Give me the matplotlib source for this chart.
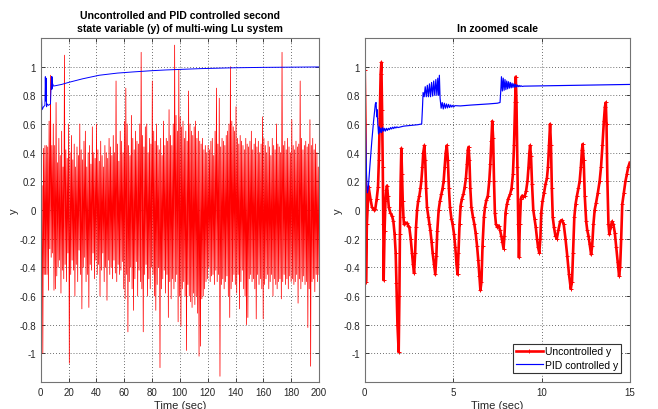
import numpy as np
import matplotlib
matplotlib.use('Agg')
from matplotlib import pyplot as plt

plt.rcParams['font.family'] = ['Liberation Sans', 'DejaVu Sans']

# uncontrolled y over 0-200 s: successive peak / trough values, about one cycle per second
y_full = [
    1.03, -0.50, 0.17, -1.00, 0.43, -0.45, 0.45, -0.45, 0.45, -0.45, 0.44, -0.56, 0.62, -0.27, 0.94, -0.33, 0.45, -0.30, 0.60, -0.56,
    0.45, -0.55, 0.75, -0.46, 0.33, -0.40, 0.50, -0.35, 0.38, -0.58, 0.55, -0.42, 0.30, -0.48, 1.08, -0.38, 0.42, -0.50, 0.36, -0.30,
    0.60, -1.07, 0.40, -0.45, 0.52, -0.35, 0.35, -0.42, 0.46, -0.60, 0.30, -0.38, 0.44, -0.50, 0.38, -0.28, 0.60, -0.45, 0.42, -0.69,
    0.35, -0.40, 0.48, -0.33, 0.55, -0.50, 0.30, -0.45, 0.40, -0.68, 0.45, -0.38, 0.32, -0.42, 0.58, -0.30, 0.40, -0.48, 0.36, -0.35,
    0.60, -0.45, 0.42, -0.38, 0.34, -0.60, 0.48, -0.42, 0.38, -0.30, 0.30, -0.50, 0.45, -0.40, 0.40, -0.63, 0.36, -0.35, 0.50, -0.45,
    0.44, -0.40, 0.38, -0.48, 0.52, -0.35, 0.40, -0.44, 0.90, -0.50, 0.46, -0.38, 0.34, -0.45, 0.55, -0.42, 0.48, -0.36, 0.40, -0.55,
    0.62, -0.62, 0.85, -0.45, 0.60, -0.85, 0.45, -0.50, 0.38, -0.40, 0.66, -0.55, 0.50, -0.70, 0.42, -0.48, 0.55, -0.36, 0.48, -0.60,
    0.46, -0.42, 0.60, -0.50, 1.10, -0.55, 0.52, -0.85, 0.44, -0.45, 0.58, -0.38, 0.60, -0.60, 0.40, -0.48, 0.50, -0.55, 0.46, -0.40,
    0.90, -0.45, 0.55, -0.60, 0.48, -0.70, 0.60, -0.52, 0.45, -0.40, 0.42, -1.10, 0.50, -0.55, 0.38, -0.48, 0.62, -0.42, 0.45, -0.58,
    0.50, -0.45, 0.48, -0.75, 0.70, -0.50, 0.52, -0.62, 0.45, -0.48, 0.60, -0.55, 1.15, -0.50, 0.66, -0.45, 0.55, -0.78, 0.98, -0.60,
    0.65, -0.81, 0.58, -0.55, 0.62, -0.50, 0.50, -0.60, 0.55, -0.98, 0.48, -0.52, 0.83, -0.60, 0.60, -0.64, 0.55, -0.68, 0.52, -0.58,
    0.58, -0.66, 0.62, -0.60, 0.50, -0.72, 0.55, -1.02, 0.48, -0.95, 0.46, -0.62, 0.50, -0.60, 0.42, -0.55, 0.45, -0.50, 0.40, -0.48,
    0.45, -0.40, 0.42, -0.50, 0.48, -0.46, 0.50, -0.45, 0.38, -0.52, 0.55, -0.42, 0.85, -0.50, 0.46, -0.45, 0.78, -1.16, 0.44, -0.52,
    0.50, -0.48, 0.48, -0.55, 0.45, -0.50, 0.52, -0.46, 0.55, -0.60, 0.60, -0.75, 1.00, -0.55, 0.62, -0.50, 0.58, -0.45, 0.55, -0.52,
    0.72, -0.58, 0.50, -0.45, 0.46, -0.69, 0.52, -0.50, 0.48, -0.42, 0.45, -0.55, 0.42, -0.60, 0.50, -0.80, 0.46, -0.75, 0.44, -0.48,
    0.48, -0.45, 0.55, -0.50, 0.42, -0.48, 0.46, -0.55, 0.50, -0.76, 0.44, -0.45, 0.48, -0.52, 0.40, -0.48, 0.46, -0.55, 0.65, -0.76,
    0.50, -0.52, 0.45, -0.48, 0.40, -0.45, 0.48, -0.55, 0.44, -0.50, 0.38, -0.45, 0.50, -0.60, 0.45, -0.48, 0.42, -0.52, 0.60, -0.55,
    0.46, -0.50, 0.44, -0.48, 0.40, -0.62, 1.10, -0.50, 0.45, -0.45, 0.48, -0.52, 0.42, -0.48, 0.50, -0.55, 0.44, -0.46, 0.40, -0.50,
    0.63, -0.48, 0.45, -0.52, 0.42, -0.50, 0.48, -0.45, 0.44, -0.65, 0.46, -0.48, 0.90, -0.55, 0.50, -0.50, 0.42, -0.46, 0.45, -0.52,
    0.48, -0.50, 0.44, -0.82, 0.46, -0.55, 0.63, -1.09, 0.45, -0.50, 0.50, -0.48, 0.42, -0.57, 0.46, -0.45, 0.40, -0.50, 0.30, -0.45,
]
t_full = np.linspace(0, 200, len(y_full))

# PID controlled y as drawn on the 0-200 s panel (coarser sampling)
t_pid_full = [0, 0.4, 1.0, 2.0, 3.0, 3.3, 3.6, 3.9, 4.2, 4.6, 5.5, 7.0, 7.7, 7.9, 8.1, 8.3, 8.6,
              9.0, 10, 12, 15, 20, 30, 42, 55, 66, 80, 90, 114, 138, 160, 200]
y_pid_full = [0.53, 0.83, 0.70, 0.72, 0.73, 0.93, 0.76, 0.92, 0.72, 0.74, 0.73, 0.74, 0.93, 0.84, 0.93,
              0.85, 0.88, 0.865, 0.866, 0.87, 0.876, 0.89, 0.915, 0.94, 0.955, 0.963, 0.972, 0.977,
              0.986, 0.992, 0.995, 0.998]

# uncontrolled y, first 15 s in detail
t_zoom = [0.00, 0.04, 0.07, 0.12, 0.22, 0.32, 0.41, 0.50, 0.60, 0.68, 0.75, 0.80, 0.85, 0.90, 0.94, 0.98,
          1.02, 1.05, 1.07, 1.12, 1.17, 1.22, 1.26, 1.31, 1.36, 1.45, 1.54, 1.62, 1.69, 1.75, 1.79, 1.85,
          1.92, 1.96, 1.99, 2.03, 2.07, 2.11, 2.15, 2.19, 2.22, 2.30, 2.39, 2.46, 2.52, 2.60, 2.67, 2.73,
          2.79, 2.85, 2.90, 2.96, 3.02, 3.09, 3.15, 3.20, 3.26, 3.31, 3.37, 3.42, 3.47, 3.52, 3.60, 3.66,
          3.71, 3.78, 3.84, 3.92, 3.99, 4.05, 4.10, 4.18, 4.25, 4.33, 4.40, 4.46, 4.52, 4.58, 4.64, 4.70,
          4.76, 4.82, 4.90, 4.97, 5.05, 5.12, 5.19, 5.25, 5.30, 5.36, 5.42, 5.50, 5.58, 5.65, 5.72, 5.78,
          5.83, 5.87, 5.92, 5.97, 6.03, 6.12, 6.20, 6.27, 6.35, 6.42, 6.48, 6.54, 6.60, 6.66, 6.74, 6.80,
          6.88, 6.96, 7.04, 7.10, 7.16, 7.21, 7.26, 7.31, 7.36, 7.42, 7.50, 7.58, 7.65, 7.72, 7.78, 7.85,
          7.90, 7.96, 8.04, 8.12, 8.22, 8.30, 8.38, 8.44, 8.50, 8.54, 8.58, 8.63, 8.68, 8.72, 8.77, 8.83,
          8.90, 8.97, 9.05, 9.12, 9.20, 9.26, 9.31, 9.35, 9.40, 9.46, 9.53, 9.60, 9.67, 9.74, 9.80, 9.87,
          9.93, 9.98, 10.05, 10.14, 10.22, 10.30, 10.36, 10.42, 10.48, 10.53, 10.58, 10.63, 10.70, 10.78, 10.86, 10.95,
          11.05, 11.15, 11.25, 11.35, 11.45, 11.55, 11.65, 11.72, 11.78, 11.85, 11.92, 12.00, 12.08, 12.15, 12.22, 12.28,
          12.32, 12.38, 12.44, 12.52, 12.58, 12.65, 12.72, 12.80, 12.86, 12.93, 13.00, 13.08, 13.18, 13.28, 13.36, 13.44,
          13.52, 13.58, 13.63, 13.67, 13.72, 13.78, 13.83, 13.90, 13.98, 14.06, 14.14, 14.22, 14.30, 14.38, 14.44, 14.50,
          14.56, 14.65, 14.74, 14.82, 14.90, 14.98]
y_zoom = [0.98, 0.60, -0.50, -0.10, 0.16, 0.08, 0.02, 0.00, 0.01, 0.08, 0.16, 0.35, 0.64, 0.95, 1.03, 0.70,
          0.30, -0.10, -0.49, -0.15, 0.06, 0.14, 0.17, 0.10, 0.02, -0.02, -0.04, -0.08, -0.17, -0.30, -0.51, -0.80,
          -0.99, -0.60, -0.17, 0.20, 0.43, 0.25, 0.06, -0.05, -0.10, -0.09, -0.09, -0.11, -0.12, -0.20, -0.30, -0.38,
          -0.44, -0.30, -0.12, 0.00, 0.06, 0.10, 0.15, 0.20, 0.30, 0.40, 0.45, 0.35, 0.15, 0.02, -0.05, -0.10,
          -0.14, -0.22, -0.30, -0.38, -0.45, -0.32, -0.15, 0.00, 0.06, 0.11, 0.15, 0.20, 0.30, 0.40, 0.45, 0.35,
          0.15, 0.02, -0.06, -0.10, -0.17, -0.26, -0.38, -0.45, -0.30, -0.10, 0.03, 0.08, 0.11, 0.16, 0.22, 0.32,
          0.42, 0.44, 0.35, 0.15, 0.02, -0.05, -0.10, -0.16, -0.25, -0.35, -0.46, -0.56, -0.50, -0.25, -0.05, 0.02,
          0.07, 0.10, 0.20, 0.32, 0.48, 0.62, 0.50, 0.20, -0.02, -0.10, -0.12, -0.11, -0.14, -0.18, -0.22, -0.27,
          -0.18, -0.02, 0.04, 0.08, 0.11, 0.15, 0.25, 0.45, 0.75, 0.93, 0.75, 0.30, -0.10, -0.33, -0.10, 0.08,
          0.10, 0.09, 0.10, 0.13, 0.20, 0.30, 0.40, 0.45, 0.38, 0.18, 0.00, -0.06, -0.12, -0.20, -0.26, -0.30,
          -0.20, -0.02, 0.06, 0.12, 0.18, 0.22, 0.30, 0.45, 0.60, 0.45, 0.15, -0.05, -0.12, -0.18, -0.20, -0.14,
          -0.08, -0.07, -0.10, -0.20, -0.32, -0.45, -0.55, -0.50, -0.30, -0.05, 0.04, 0.10, 0.15, 0.20, 0.30, 0.42,
          0.46, 0.35, 0.10, -0.08, -0.14, -0.18, -0.24, -0.31, -0.25, -0.10, 0.00, 0.05, 0.12, 0.20, 0.30, 0.45,
          0.62, 0.72, 0.75, 0.60, 0.20, -0.10, -0.17, -0.12, -0.08, -0.10, -0.16, -0.26, -0.36, -0.46, -0.40, -0.20,
          0.04, 0.12, 0.20, 0.25, 0.30, 0.33]

# PID controlled y, first 15 s in detail
t_pid = [0.00, 0.05, 0.10, 0.15, 0.20, 0.30, 0.40, 0.50, 0.55, 0.60, 0.64, 0.68, 0.70, 0.74, 0.78,
         0.82, 0.86, 0.90, 0.95, 1.00, 1.05, 1.10, 1.16, 1.22, 1.28, 1.34, 1.40, 1.46, 1.52, 1.58, 1.64,
         1.70, 1.76, 1.82, 1.88, 2.20, 2.60, 3.00, 3.22,
         3.26, 3.30, 3.36, 3.42, 3.48, 3.54, 3.60, 3.66, 3.72, 3.78, 3.84, 3.90, 3.96, 4.02, 4.08, 4.13,
         4.18, 4.22, 4.26, 4.32, 4.38, 4.44, 4.50, 4.56, 4.62, 4.68, 4.74, 4.80, 4.86, 4.92, 4.98, 5.04,
         5.10, 5.40, 6.00, 6.50, 7.00, 7.50, 7.65,
         7.70, 7.73, 7.78, 7.83, 7.88, 7.93, 7.98, 8.03, 8.08, 8.13, 8.18, 8.23, 8.28, 8.33, 8.38, 8.43,
         8.48, 8.53, 8.58, 8.63, 8.68, 8.73, 8.78, 8.83, 8.90, 9.00, 10.0, 11.0, 12.0, 13.0, 14.0, 15.0]
y_pid = [0.96, 0.55, 0.25, 0.12, 0.15, 0.32, 0.48, 0.62, 0.68, 0.74, 0.75, 0.65, 0.70, 0.60, 0.53,
         0.58, 0.54, 0.57, 0.54, 0.575, 0.55, 0.57, 0.55, 0.57, 0.555, 0.57, 0.56, 0.575, 0.565, 0.578, 0.568,
         0.58, 0.572, 0.58, 0.575, 0.585, 0.59, 0.595, 0.60,
         0.70, 0.82, 0.79, 0.86, 0.79, 0.87, 0.79, 0.88, 0.79, 0.89, 0.795, 0.90, 0.80, 0.91, 0.80, 0.92,
         0.80, 0.94, 0.78, 0.71, 0.75, 0.705, 0.745, 0.71, 0.74, 0.712, 0.737, 0.715, 0.733, 0.718, 0.73, 0.72,
         0.728, 0.726, 0.732, 0.736, 0.740, 0.745, 0.75,
         0.85, 0.93, 0.83, 0.92, 0.835, 0.91, 0.84, 0.90, 0.845, 0.895, 0.85, 0.89, 0.852, 0.885, 0.855, 0.88,
         0.857, 0.876, 0.858, 0.872, 0.86, 0.869, 0.861, 0.867, 0.862, 0.864, 0.866, 0.868, 0.870, 0.872, 0.874, 0.876]

y_ticks = [-1, -0.8, -0.6, -0.4, -0.2, 0, 0.2, 0.4, 0.6, 0.8, 1]
y_ticklabels = ['-1', '-0.8', '-0.6', '-0.4', '-0.2', '0', '0.2', '0.4', '0.6', '0.8', '1']
x_ticks_full = [0, 20, 40, 60, 80, 100, 120, 140, 160, 180, 200]
x_ticks_zoom = [0, 5, 10, 15]

fig = plt.figure(figsize=(6.58, 4.10), dpi=100)
ax1 = fig.add_axes([0.0619, 0.0659, 0.4229, 0.839])
ax2 = fig.add_axes([0.5543, 0.0659, 0.4032, 0.839])


def style(ax, xticks, xlim):
    ax.set_xlim(xlim)
    ax.set_ylim(-1.2, 1.2)
    ax.set_xticks(xticks)
    ax.set_yticks(y_ticks)
    ax.set_yticklabels(y_ticklabels)
    ax.tick_params(direction='in', top=True, right=True, labelsize=7, length=3,
                   width=0.6, colors='0.15')
    ax.grid(True, color='0.25', linestyle=(0, (1, 2.5)), linewidth=0.6)
    for s in ax.spines.values():
        s.set_color('0.45')
        s.set_linewidth(0.8)
    ax.set_xlabel('Time (sec)', fontsize=8, color='0.15', labelpad=2)
    ax.set_ylabel('y', fontsize=8, color='0.15', labelpad=0)


ax1.plot(t_full, y_full, color='red', linewidth=0.55)
ax1.plot(t_pid_full, y_pid_full, color='blue', linewidth=0.7)
style(ax1, x_ticks_full, (0, 200))
ax1.set_title('Uncontrolled and PID controlled second\nstate variable (y) of multi-wing Lu system',
              fontsize=7.6, fontweight='bold', pad=5, linespacing=1.35)

ax2.plot(t_zoom, y_zoom, color='red', linewidth=1.9, marker='+', markersize=3.5,
         markeredgewidth=0.7, label='Uncontrolled y')
ax2.plot(t_pid, y_pid, color='blue', linewidth=0.85, label='PID controlled y')
style(ax2, x_ticks_zoom, (0, 15))
ax2.set_title('In zoomed scale', fontsize=7.6, fontweight='bold', pad=5)
leg = ax2.legend(loc='lower right', fontsize=7.5, fancybox=False, framealpha=1,
                 borderaxespad=0.9, handlelength=2.6, handletextpad=0.2,
                 borderpad=0.25, labelspacing=0.35)
leg.get_frame().set_edgecolor('0.2')
leg.get_frame().set_linewidth(0.8)

fig.savefig('out.png', dpi=100)
